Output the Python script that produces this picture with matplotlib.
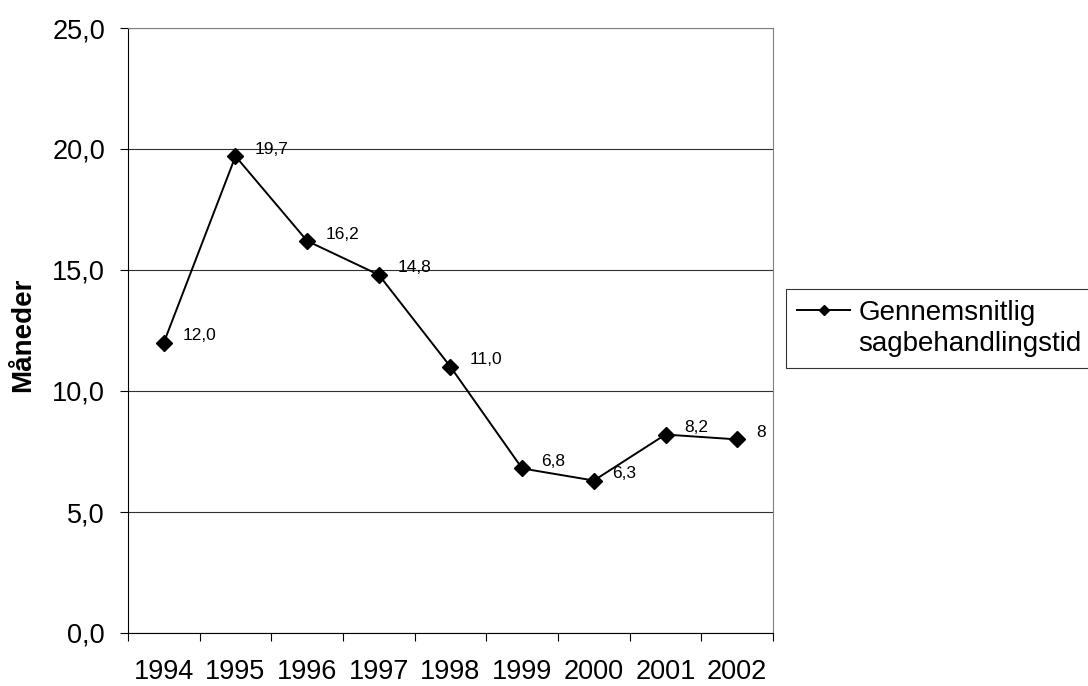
import matplotlib
matplotlib.use("Agg")
import matplotlib.pyplot as plt
from matplotlib.lines import Line2D
from matplotlib.ticker import FixedLocator, NullFormatter

plt.rcParams['font.family'] = ['Liberation Sans', 'DejaVu Sans']

years = ['1994', '1995', '1996', '1997', '1998', '1999', '2000', '2001', '2002']
values = [12.0, 19.7, 16.2, 14.8, 11.0, 6.8, 6.3, 8.2, 8.0]
value_labels = ['12,0', '19,7', '16,2', '14,8', '11,0', '6,8', '6,3', '8,2', '8']
y_ticks = [0, 5, 10, 15, 20, 25]
series_label = ['Gennemsnitlig', 'sagbehandlingstid']

fig = plt.figure(figsize=(10.88, 6.86), dpi=100)
ax = fig.add_axes([128 / 1088, 1 - 633 / 686, 645 / 1088, 605 / 686])

x = list(range(len(years)))
line, = ax.plot(x, values, color='black', lw=1.4, marker='D', markersize=8)

for xi, v, lab in zip(x, values, value_labels):
    ax.annotate(lab, (xi, v), xytext=(13.5, 5), textcoords='offset points',
                fontsize=12.5, va='center', ha='left')

ax.set_xlim(-0.5, len(years) - 0.5)
ax.set_ylim(0, 25)
ax.set_yticks(y_ticks)
ax.set_yticklabels([f'{t:.1f}'.replace('.', ',') for t in y_ticks], fontsize=19.5)
ax.yaxis.grid(True, color='#303030', lw=0.8)
ax.set_axisbelow(True)

# categories centered, tick marks on boundaries
ax.set_xticks(x)
ax.set_xticklabels(years, fontsize=19.5)
ax.tick_params(axis='x', which='major', length=0, pad=19)
ax.xaxis.set_minor_locator(FixedLocator([i - 0.5 for i in range(len(years) + 1)]))
ax.xaxis.set_minor_formatter(NullFormatter())
ax.tick_params(axis='x', which='minor', length=5.5, width=0.8, color='black')
ax.tick_params(axis='y', length=5.5, width=0.8, pad=11)

for s in ['top', 'right']:
    ax.spines[s].set_color('#808080')
for s in ['left', 'bottom']:
    ax.spines[s].set_color('black')

ax.set_ylabel('Måneder', fontsize=20, fontweight='bold')
ax.yaxis.set_label_coords(-0.1426, 0.493)

# legend: series name wrapped over two rows, handle on the first
h1 = Line2D([], [], color='black', lw=1.4, marker='D', markersize=5.5)
h2 = Line2D([], [], color='none')
leg = fig.legend(handles=[h1, h2], labels=series_label, loc='upper left',
                 bbox_to_anchor=(786 / 1088, 1 - 289 / 686),
                 fontsize=20, frameon=True, fancybox=False, edgecolor='black',
                 handlelength=1.9, handletextpad=0.3, borderaxespad=0,
                 borderpad=0.4, labelspacing=0.18)
leg.get_frame().set_linewidth(0.8)

fig.savefig('out.png', dpi=100)
